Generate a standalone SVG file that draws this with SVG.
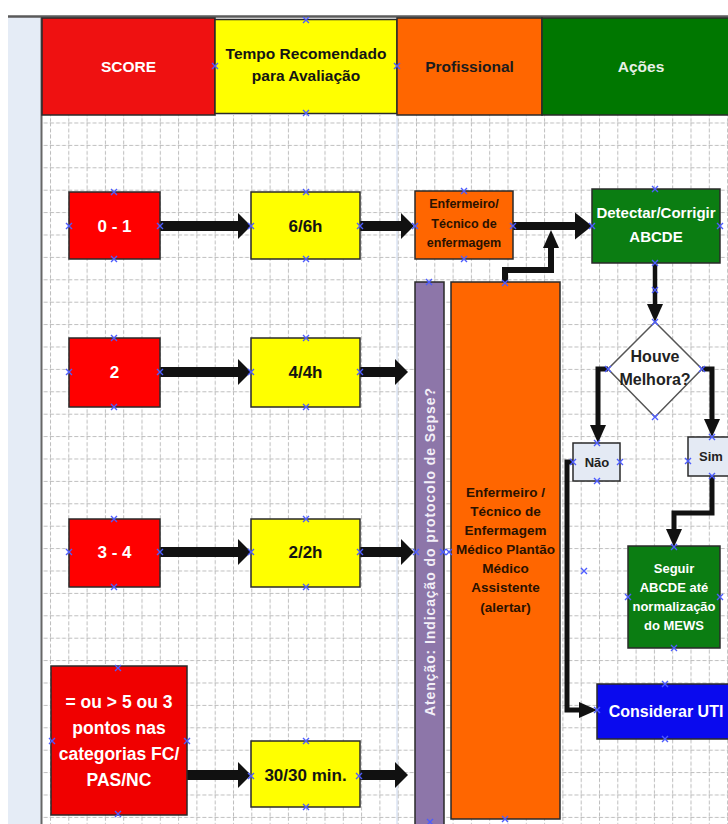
<svg xmlns="http://www.w3.org/2000/svg" width="728" height="824" viewBox="0 0 728 824">
<style>
text{font-family:"Liberation Sans",Arial,sans-serif;font-weight:bold;text-anchor:middle}
.box{stroke:#2a2a2a;stroke-width:1.5}
.red{fill:#ff0000}
.hred{fill:#ef1111}
.yel{fill:#ffff00}
.org{fill:#ff6600}
.grn{fill:#0b7d12}
.pur{fill:#8d76a9}
.lb{fill:#e4eaf4}
.w{fill:#ffffff}
.k{fill:#141414}
.dk{fill:#2a1200}
.c{fill:none;stroke:#111;stroke-linejoin:miter}
.mk{stroke:#4d5cff;stroke-width:1.4;fill:none}
</style>
<defs>
<pattern id="grid" x="50" y="122.5" width="18.3" height="22.4" patternUnits="userSpaceOnUse">
<path d="M0,0.5 H18.3" stroke="#bdbdbd" stroke-width="1" stroke-dasharray="4 2"/>
<path d="M0.5,0 V22.4" stroke="#bdbdbd" stroke-width="1" stroke-dasharray="4 2"/>
</pattern>
<marker id="big" markerUnits="userSpaceOnUse" viewBox="0 -15 20 30" markerWidth="20" markerHeight="30" refX="0" refY="0" orient="auto" overflow="visible"><path d="M0,-13 L13,0 L0,13 z" fill="#111"/></marker>
<marker id="med" markerUnits="userSpaceOnUse" viewBox="0 -15 20 30" markerWidth="20" markerHeight="30" refX="0" refY="0" orient="auto" overflow="visible"><path d="M0,-13.5 L17,0 L0,13.5 z" fill="#111"/></marker>
<marker id="up" markerUnits="userSpaceOnUse" viewBox="0 -15 20 30" markerWidth="20" markerHeight="30" refX="0" refY="0" orient="auto" overflow="visible"><path d="M0,-8 L18,0 L0,8 z" fill="#111"/></marker>
<marker id="sm" markerUnits="userSpaceOnUse" viewBox="0 -15 20 30" markerWidth="20" markerHeight="30" refX="0" refY="0" orient="auto" overflow="visible"><path d="M0,-8 L18,0 L0,8 z" fill="#111"/></marker>
<path id="x" d="M-3,-3 L3,3 M-3,3 L3,-3"/>
</defs>

<rect x="0" y="0" width="728" height="824" fill="#ffffff"/>
<rect x="8" y="17" width="34" height="807" fill="#e5ecf6"/>
<rect x="42" y="115" width="686" height="709" fill="#ffffff"/>
<rect x="42" y="115" width="686" height="709" fill="url(#grid)"/>
<line x1="8" y1="16.5" x2="728" y2="16.5" stroke="#5a5a5a" stroke-width="2.5"/>
<line x1="41.5" y1="17" x2="41.5" y2="824" stroke="#666" stroke-width="2"/>
<line x1="397" y1="115" x2="397" y2="824" stroke="#c9d6ee" stroke-width="1"/>

<g id="header">
<g id="h-score"><rect class="box hred" x="42" y="18" width="173" height="97"/><text class="w" x="128.5" y="72" font-size="15.5">SCORE</text></g>
<g id="h-tempo"><rect class="box yel" x="215" y="19.5" width="182" height="94"/><text class="k" x="306" y="59" font-size="15.5">Tempo Recomendado</text><text class="k" x="306" y="81" font-size="15.5">para Avaliação</text></g>
<g id="h-prof"><rect class="box org" x="397" y="18" width="145" height="97"/><text fill="#1c1c1c" x="469.5" y="72" font-size="15.5">Profissional</text></g>
<g id="h-acoes"><rect class="box" fill="#007700" x="542" y="18" width="190" height="97"/><text fill="#e8f0e8" x="641" y="72" font-size="15.5">Ações</text></g>
</g>

<g id="connectors">
<path class="c" stroke-width="10" d="M160,226 H238" marker-end="url(#big)"/>
<path class="c" stroke-width="10" d="M360,226 H401" marker-end="url(#big)"/>
<path class="c" stroke-width="8" d="M513,226 H575" marker-end="url(#med)"/>
<path class="c" stroke-width="6" d="M505,282 V270 H551 V248" marker-end="url(#up)"/>
<path class="c" stroke-width="10" d="M160,372 H238" marker-end="url(#big)"/>
<path class="c" stroke-width="10" d="M360,372 H395" marker-end="url(#big)"/>
<path class="c" stroke-width="10" d="M160,552 H238" marker-end="url(#big)"/>
<path class="c" stroke-width="10" d="M360,552 H401" marker-end="url(#big)"/>
<path class="c" stroke-width="10" d="M187,775 H238" marker-end="url(#big)"/>
<path class="c" stroke-width="10" d="M360,775 H395" marker-end="url(#big)"/>
<path class="c" stroke-width="4.5" d="M655,263 V304" marker-end="url(#sm)"/>
<path class="c" stroke-width="5" d="M608,369 H598 V425" marker-end="url(#sm)"/>
<path class="c" stroke-width="5" d="M702,369 H712 V419" marker-end="url(#sm)"/>
<path class="c" stroke-width="5" d="M712,476 V513 H674 V529" marker-end="url(#sm)"/>
<path class="c" stroke-width="5" d="M573,462 H567 V710 H579" marker-end="url(#sm)"/>
</g>

<g id="n-score01"><rect class="box red" x="69" y="192" width="91" height="67"/><text class="w" x="114.5" y="232" font-size="17">0 - 1</text></g>
<g id="n-t6"><rect class="box yel" x="251" y="192" width="109" height="67"/><text class="k" x="305.5" y="232" font-size="17">6/6h</text></g>
<g id="n-enf"><rect class="box org" x="415" y="191" width="98" height="68"/><text class="dk" x="464" y="208" font-size="12.5">Enfermeiro/</text><text class="dk" x="464" y="228" font-size="12.5">Técnico de</text><text class="dk" x="464" y="247" font-size="12.5">enfermagem</text></g>
<g id="n-detectar"><rect class="box grn" x="592" y="189" width="128" height="74"/><text class="w" x="656" y="218" font-size="15">Detectar/Corrigir</text><text class="w" x="656" y="242" font-size="15">ABCDE</text></g>

<g id="n-score2"><rect class="box red" x="69" y="338" width="91" height="69"/><text class="w" x="114.5" y="378" font-size="17">2</text></g>
<g id="n-t4"><rect class="box yel" x="251" y="338" width="109" height="69"/><text class="k" x="305.5" y="378" font-size="17">4/4h</text></g>

<g id="n-score34"><rect class="box red" x="69" y="519" width="91" height="68"/><text class="w" x="114.5" y="558" font-size="17">3 - 4</text></g>
<g id="n-t2"><rect class="box yel" x="251" y="519" width="109" height="68"/><text class="k" x="305.5" y="558" font-size="17">2/2h</text></g>

<g id="n-score5"><rect class="box" fill="#f00000" x="51" y="666" width="136" height="149"/>
<text class="w" x="119" y="708" font-size="17.5">= ou &gt; 5 ou 3</text>
<text class="w" x="119" y="734" font-size="17.5">pontos nas</text>
<text class="w" x="119" y="760" font-size="17.5">categorias FC/</text>
<text class="w" x="119" y="786" font-size="17.5">PAS/NC</text></g>
<g id="n-t30"><rect class="box yel" x="251" y="741" width="109" height="66"/><text class="k" x="305.5" y="781" font-size="17">30/30 min.</text></g>

<g id="n-sepse"><rect class="box pur" x="415" y="282" width="29" height="550"/><text transform="translate(429.5,552) rotate(-90)" dominant-baseline="central" font-weight="normal" font-size="14" fill="#f3eff8" textLength="328" lengthAdjust="spacing">Atenção: Indicação do protocolo de Sepse?</text></g>

<g id="n-prof"><rect class="box org" x="451" y="282" width="109" height="537"/>
<text class="dk" x="505.5" y="497" font-size="13.5">Enfermeiro /</text>
<text class="dk" x="505.5" y="516" font-size="13.5">Técnico de</text>
<text class="dk" x="505.5" y="535" font-size="13.5">Enfermagem</text>
<text class="dk" x="505.5" y="554" font-size="13.5">Médico Plantão</text>
<text class="dk" x="505.5" y="573" font-size="13.5">Médico</text>
<text class="dk" x="505.5" y="592" font-size="13.5">Assistente</text>
<text class="dk" x="505.5" y="612" font-size="13.5">(alertar)</text></g>

<g id="n-houve"><path d="M655,322 L702,369 L655,417 L608,369 z" fill="#ffffff" stroke="#555" stroke-width="1.5"/><text fill="#222" font-weight="normal" x="655" y="362" font-size="16">Houve</text><text fill="#222" font-weight="normal" x="655" y="385" font-size="16">Melhora?</text></g>
<g id="n-nao"><rect class="box lb" x="573" y="443" width="47" height="38"/><text fill="#222" x="597" y="467" font-size="13">Não</text></g>
<g id="n-sim"><rect class="box lb" x="688" y="437" width="48" height="39"/><text fill="#222" x="711" y="461" font-size="13">Sim</text></g>
<g id="n-seguir"><rect class="box grn" x="628" y="546" width="92" height="102"/>
<text class="w" x="674" y="573" font-size="13">Seguir</text>
<text class="w" x="674" y="592" font-size="13">ABCDE até</text>
<text class="w" x="674" y="611" font-size="13">normalização</text>
<text class="w" x="674" y="630" font-size="13">do MEWS</text></g>
<g id="n-uti"><rect class="box" fill="#0a0aee" x="597" y="684" width="138" height="55"/><text class="w" x="666" y="717" font-size="16">Considerar UTI</text></g>

<g id="markers" class="mk">
<use href="#x" x="306" y="20"/><use href="#x" x="215" y="66"/><use href="#x" x="397" y="66"/><use href="#x" x="306" y="113"/>
<use href="#x" x="114" y="192"/><use href="#x" x="69" y="226"/><use href="#x" x="160" y="226"/><use href="#x" x="114" y="259"/>
<use href="#x" x="306" y="192"/><use href="#x" x="251" y="226"/><use href="#x" x="360" y="226"/><use href="#x" x="306" y="259"/>
<use href="#x" x="464" y="191"/><use href="#x" x="415" y="226"/><use href="#x" x="513" y="226"/><use href="#x" x="464" y="259"/>
<use href="#x" x="655" y="189"/><use href="#x" x="592" y="226"/><use href="#x" x="720" y="226"/><use href="#x" x="655" y="263"/><use href="#x" x="655" y="290"/>
<use href="#x" x="505" y="283"/><use href="#x" x="429" y="282"/>
<use href="#x" x="655" y="322"/><use href="#x" x="608" y="369"/><use href="#x" x="702" y="369"/><use href="#x" x="655" y="417"/>
<use href="#x" x="597" y="443"/><use href="#x" x="573" y="462"/><use href="#x" x="620" y="462"/><use href="#x" x="597" y="481"/>
<use href="#x" x="712" y="437"/><use href="#x" x="688" y="461"/><use href="#x" x="712" y="476"/>
<use href="#x" x="674" y="547"/><use href="#x" x="628" y="597"/><use href="#x" x="720" y="597"/><use href="#x" x="674" y="648"/>
<use href="#x" x="665" y="684"/><use href="#x" x="597" y="710"/><use href="#x" x="665" y="739"/>
<use href="#x" x="584" y="571"/>
<use href="#x" x="114" y="338"/><use href="#x" x="69" y="372"/><use href="#x" x="160" y="372"/><use href="#x" x="114" y="407"/>
<use href="#x" x="306" y="338"/><use href="#x" x="251" y="372"/><use href="#x" x="360" y="372"/><use href="#x" x="306" y="407"/>
<use href="#x" x="114" y="519"/><use href="#x" x="69" y="552"/><use href="#x" x="160" y="552"/><use href="#x" x="114" y="587"/>
<use href="#x" x="306" y="519"/><use href="#x" x="251" y="552"/><use href="#x" x="360" y="552"/><use href="#x" x="306" y="587"/>
<use href="#x" x="416" y="552"/><use href="#x" x="443" y="552"/><use href="#x" x="449" y="552"/>
<use href="#x" x="505" y="819"/><use href="#x" x="430" y="822"/>
<use href="#x" x="118" y="668"/><use href="#x" x="52" y="741"/><use href="#x" x="187" y="741"/><use href="#x" x="118" y="814"/>
<use href="#x" x="306" y="741"/><use href="#x" x="251" y="776"/><use href="#x" x="359" y="776"/><use href="#x" x="306" y="807"/>
</g>
</svg>
